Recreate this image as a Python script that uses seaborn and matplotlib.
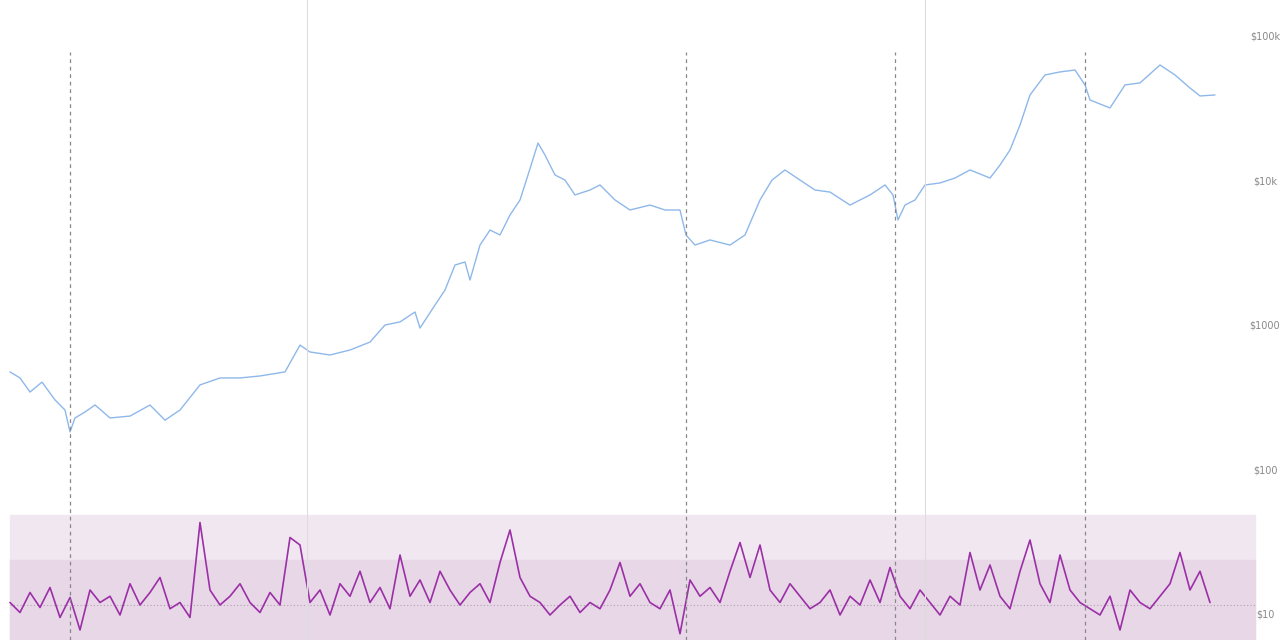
import matplotlib
matplotlib.use("Agg")
import matplotlib.pyplot as plt
import seaborn as sns

# price line (day index, USD)
price_day = [10, 20, 30, 42, 55, 65, 70, 75, 85, 95, 110, 130, 150, 165, 180, 200, 220, 240, 260, 285,
             300, 310, 330, 350, 370, 385, 400, 415, 420, 435, 445, 455, 465, 470, 480, 490, 500, 510, 520, 528,
             538, 545, 555, 565, 575, 590, 600, 615, 630, 650, 665, 680, 686, 695, 710, 730, 745, 760, 772, 785,
             800, 815, 830, 850, 870, 885, 893, 898, 905, 915, 925, 940, 955, 970, 990, 1000, 1010, 1020, 1030, 1045,
             1060, 1075, 1085, 1090, 1110, 1125, 1140, 1160, 1175, 1190, 1200, 1215]
price = [481, 437, 349, 409, 308, 262, 185, 231, 254, 284, 231, 238, 284, 223, 262, 391, 437, 437, 451, 481,
         738, 661, 630, 682, 774, 1016, 1067, 1250, 968, 1396, 1774, 2642, 2773, 2080, 3631, 4613, 4266, 5861, 7447, 11090,
         18450, 15240, 11090, 10230, 8070, 8730, 9460, 7447, 6350, 6870, 6350, 6350, 4266, 3631, 3940, 3631, 4266, 7447, 10230, 12020,
         10230, 8730, 8450, 6870, 8070, 9460, 8070, 5420, 6870, 7447, 9460, 9770, 10570, 12020, 10570, 13000, 16520, 24600, 39700, 54600,
         57300, 59100, 46600, 36640, 32280, 46600, 48100, 64000, 54600, 44360, 39080, 39700]

# oscillator (0-100 band scale), sampled every 10 days from day 10
osc = [30, 22, 38, 26, 42, 18, 34, 8, 40, 30, 35, 20, 45, 28, 38, 50, 25, 30, 18, 94,
       40, 28, 35, 45, 30, 22, 38, 28, 82, 76, 30, 40, 20, 45, 35, 55, 30, 42, 25, 68,
       35, 48, 30, 55, 40, 28, 38, 45, 30, 62, 88, 50, 35, 30, 20, 28, 35, 22, 30, 25,
       40, 62, 35, 45, 30, 25, 40, 5, 48, 35, 42, 30, 55, 78, 50, 76, 40, 30, 45, 35,
       25, 30, 40, 20, 35, 28, 48, 30, 58, 35, 25, 40, 30, 20, 35, 28, 70, 40, 60, 35,
       25, 55, 80, 45, 30, 68, 40, 30, 25, 20, 35, 8, 40, 30, 25, 35, 45, 70, 40, 55,
       30]
osc_day = [10 + 10 * i for i in range(len(osc))]

dashed_days = [70, 686, 895, 1085]
solid_days = [307, 925]

sns.set_style("white")
fig = plt.figure(figsize=(12.8, 6.4), dpi=100)
ax = fig.add_axes([0, 0, 1, 1])
ax.set_xlim(0, 1280)
ax.set_yscale("log")
ax.set_ylim(10 ** (5.256 - 640 / 144.5), 10 ** 5.256)

ax2 = ax.twinx()
ax2.set_ylim(0, 512)
ax2.axhspan(0, 100, xmin=10 / 1280, xmax=1255 / 1280, color="#f1e7f1", zorder=0)
ax2.axhspan(0, 64, xmin=10 / 1280, xmax=1255 / 1280, color="#e7d7e7", zorder=0)
ax2.axhline(28, xmin=10 / 1280, xmax=1255 / 1280, color="#b0a0b0", ls=(0, (1, 2)), lw=0.8)
sns.lineplot(x=osc_day, y=osc, ax=ax2, color="#9b2fa6", lw=1.2)
ax2.axis("off")

ax.set_zorder(ax2.get_zorder() + 1)
ax.patch.set_visible(False)
sns.lineplot(x=price_day, y=price, ax=ax, color="#8fb8ea", lw=1)
for d in dashed_days:
    ax.axvline(d, ymin=0, ymax=(640 - 52) / 640, color="#888888", ls=(0, (3, 3)), lw=0.9)
for d in solid_days:
    ax.axvline(d, color="#dddddd", lw=0.8)

for v, lab in zip([10, 100, 1000, 10000, 100000], ["$10", "$100", "$1000", "$10k", "$100k"]):
    ax.text(1265, v, lab, ha="center", va="center", fontsize=7, color="#888888")

ax.set_xticks([])
ax.set_yticks([])
ax.minorticks_off()
ax.tick_params(which="both", left=False, right=False, labelleft=False)
ax.set_xlabel("")
ax.set_ylabel("")
for s in ax.spines.values():
    s.set_visible(False)
fig.savefig("out.png", dpi=100)
